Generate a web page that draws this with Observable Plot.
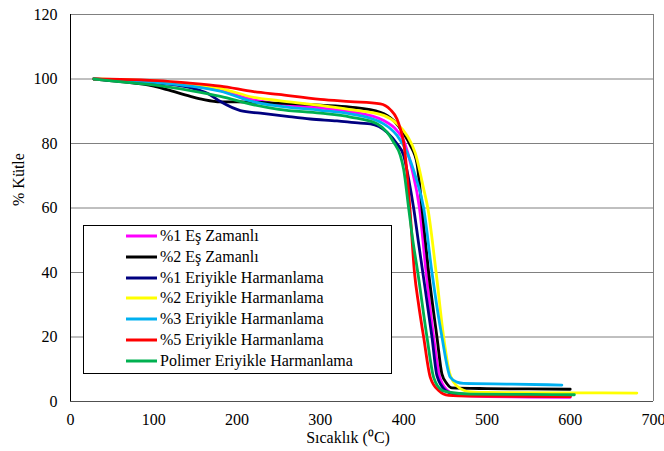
<!DOCTYPE html>
<html>
<head>
<meta charset="utf-8">
<script src="https://cdn.jsdelivr.net/npm/d3@7"></script>
<script src="https://cdn.jsdelivr.net/npm/@observablehq/plot@0.6"></script>
<style>
  body { margin: 0; background: white; }
  #wrap { position: relative; width: 664px; height: 451px; }
  #legend { position: absolute; left: 83px; top: 225px; width: 307px; height: 147px;
    border: 1px solid #000; background: white; font-family: 'Liberation Serif', 'Times New Roman', serif;
    font-size: 16px; color: #000; }
  .row { position: absolute; left: 42px; height: 20px; display: flex; align-items: center; white-space: nowrap; }
  .row svg { margin-right: 3px; }
</style>
</head>
<body>
<div id="wrap"></div>
<script>
// ---- data ----
const seriesNames = ["%1 Eş Zamanlı", "%2 Eş Zamanlı", "%1 Eriyikle Harmanlama", "%2 Eriyikle Harmanlama",
  "%3 Eriyikle Harmanlama", "%5 Eriyikle Harmanlama", "Polimer Eriyikle Harmanlama"];
const colors = ["#FF00FF", "#000000", "#000080", "#FFFF00", "#00B0F0", "#FF0000", "#00B050"];
const xTicks = [0, 100, 200, 300, 400, 500, 600, 700];
const yTicks = [0, 20, 40, 60, 80, 100, 120];

const t_ez1 = [28, 60, 104, 144, 180, 220, 260, 300, 336, 376, 392, 400, 410, 419, 427, 436, 444, 455, 470, 500, 550, 600];
const m_ez1 = [100, 99.6, 99.0, 98.0, 96.4, 93.5, 92.0, 91.0, 89.9, 87.1, 84.0, 80.9, 72, 60, 40, 20, 7, 3, 1.8, 1.5, 1.4, 1.3];

const t_ez2 = [28, 60, 100, 116, 144, 160, 180, 200, 250, 300, 336, 372, 388, 400, 408, 416, 422, 430, 440, 446, 452, 458, 500, 550, 600];
const m_ez2 = [100, 99.2, 97.8, 96.7, 94.6, 93.6, 92.9, 92.9, 92.5, 91.9, 91.3, 89.7, 87.1, 83.1, 79.4, 73.8, 60, 40, 20, 8.5, 5.5, 4.2, 4.0, 3.9, 3.8];

const t_eh1 = [28, 60, 104, 144, 165, 180, 204, 228, 260, 288, 320, 348, 360, 380, 392, 400, 406, 412, 418, 423, 434, 440, 450, 460, 500, 600];
const m_eh1 = [100, 99.5, 98.7, 97.3, 95.5, 93.0, 90.2, 89.4, 88.4, 87.6, 87.0, 86.3, 86.1, 83.5, 79.9, 76.3, 69, 60, 49, 40, 20, 8, 3.5, 2.4, 2.0, 1.6];

const t_eh2 = [28, 60, 104, 144, 180, 220, 250, 300, 336, 376, 392, 404, 414, 424, 429, 439, 448, 455, 460, 468, 480, 500, 600, 680];
const m_eh2 = [100, 99.8, 99.3, 98.4, 97.1, 94.3, 93.3, 91.8, 90.5, 88.7, 86.1, 82.5, 77, 66, 60, 40, 20, 9, 6, 4.0, 3.0, 2.8, 2.7, 2.6];

const t_eh3 = [28, 60, 104, 144, 180, 220, 250, 300, 336, 376, 392, 404, 414, 424, 434, 446, 456, 464, 472, 530, 590];
const m_eh3 = [100, 99.6, 98.9, 97.8, 96.2, 92.9, 91.6, 90.3, 89.2, 86.1, 82.5, 77.3, 70, 60, 40, 20, 7.5, 6.0, 5.6, 5.4, 5.1];

const t_eh5 = [28, 60, 104, 140, 180, 220, 250, 300, 336, 372, 384, 392, 396, 400, 404, 407.5, 413, 418, 424, 432, 442, 454, 480, 550, 600];
const m_eh5 = [100, 99.9, 99.5, 98.8, 97.8, 96.1, 95.2, 93.7, 93.0, 92.3, 90.5, 87.6, 84.6, 80.4, 71, 60, 40, 30, 20, 7.5, 3.4, 1.9, 1.7, 1.6, 1.5];

const t_pol = [28, 64, 104, 144, 180, 220, 250, 300, 336, 368, 380, 388, 396, 400, 406, 411, 417, 428, 436, 446, 454, 480, 550, 605];
const m_pol = [100, 99.0, 98.0, 96.4, 94.6, 92.0, 90.6, 89.4, 88.2, 86.1, 83.5, 80.4, 76.3, 72, 60, 50, 40, 20, 7.5, 3.5, 2.9, 2.3, 2.2, 2.1];

const temps = [t_ez1, t_ez2, t_eh1, t_eh2, t_eh3, t_eh5, t_pol];
const masses = [m_ez1, m_ez2, m_eh1, m_eh2, m_eh3, m_eh5, m_pol];

const rows = [];
seriesNames.forEach((s, i) => temps[i].forEach((t, j) => rows.push({series: s, t, m: masses[i][j]})));

const font = "'Liberation Serif', 'Times New Roman', serif";

const chart = Plot.plot({
  width: 664, height: 451,
  marginLeft: 70, marginRight: 11, marginTop: 14, marginBottom: 50,
  x: {domain: [0, 700]},
  y: {domain: [0, 120]},
  color: {domain: seriesNames, range: colors},
  style: {fontFamily: font, fontSize: "16px", background: "white", color: "#000", overflow: "visible"},
  marks: [
    Plot.gridY(yTicks.filter(d => d > 0), {stroke: "#808080", strokeOpacity: 1}),
    Plot.ruleX([700], {stroke: "#808080"}),
    Plot.ruleY([0], {stroke: "#505050"}),
    Plot.ruleX([0], {stroke: "#000"}),
    Plot.axisX(xTicks, {tickSize: 0, tickPadding: 12, label: null, fontSize: 16, tickFormat: d => String(d)}),
    Plot.axisY(yTicks, {tickSize: 0, tickPadding: 13, label: null, fontSize: 16, tickFormat: d => String(d)}),
    Plot.line(rows, {x: "t", y: "m", z: "series", stroke: "series", curve: "monotone-x", strokeWidth: 2.8}),
    Plot.text(["Sıcaklık (⁰C)"], {frameAnchor: "bottom", dx: -14, dy: 41, fontSize: 16, fill: "#000"}),
    Plot.text(["% Kütle"], {frameAnchor: "left", dx: -52, dy: -2, rotate: -90, fontSize: 16, fill: "#000"})
  ]
});

const wrap = document.getElementById("wrap");
wrap.appendChild(chart);

// legend box
const lg = document.createElement("div");
lg.id = "legend";
seriesNames.forEach((s, i) => {
  const r = document.createElement("div");
  r.className = "row";
  r.style.top = (i * 20.8) + "px";
  r.innerHTML = `<svg width="31" height="4"><line x1="0" y1="2" x2="31" y2="2" stroke="${colors[i]}" stroke-width="3"/></svg><span>${s}</span>`;
  lg.appendChild(r);
});
wrap.appendChild(lg);
</script>
</body>
</html>
